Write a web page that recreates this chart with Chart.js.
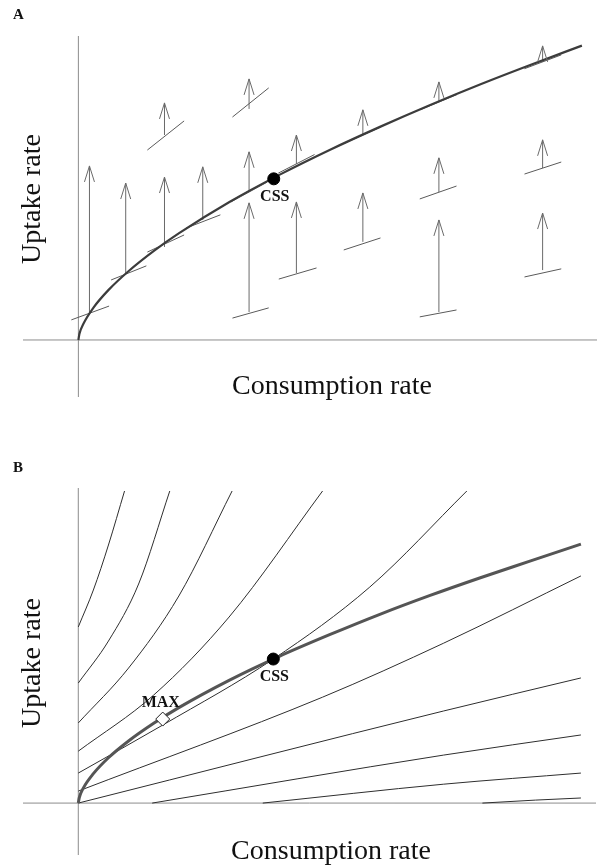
<!DOCTYPE html>
<html>
<head>
<meta charset="utf-8">
<script src="https://cdn.jsdelivr.net/npm/chart.js@4.4.0/dist/chart.umd.min.js"></script>
<style>
body { margin: 0; background: #fff; }
#wrap { position: relative; width: 604px; height: 867px; font-family: "Liberation Serif", "Times New Roman", serif; color: #111; }
canvas { position: absolute; left: 0; }
.lbl { position: absolute; white-space: nowrap; line-height: 1; font-size: 28px; transform: translate(-50%, -50%); }
.rot { transform: translate(-50%, -50%) rotate(-90deg); }
.panel { position: absolute; font-weight: bold; font-size: 15px; line-height: 1; }
</style>
</head>
<body>
<div id="wrap">
  <canvas id="chartA" width="604" height="430" style="top:0"></canvas>
  <canvas id="chartB" width="604" height="437" style="top:430px"></canvas>
  <div class="panel" style="left:13px;top:7px">A</div>
  <div class="panel" style="left:13px;top:460px">B</div>
  <div class="lbl rot" style="left:31px;top:199px">Uptake rate</div>
  <div class="lbl" style="left:332px;top:385px">Consumption rate</div>
  <div class="lbl rot" style="left:31px;top:663px">Uptake rate</div>
  <div class="lbl" style="left:331px;top:850px">Consumption rate</div>
</div>
<script>
// ---- panel A ----
var rangeAX = [-1.1, 10.3];
var rangeAY = [-1.9, 10.13];
var curveAX = [0, 0.02, 0.1, 0.3, 0.6, 1, 1.5, 2, 3, 4, 5, 6, 7, 8, 9, 10];
var curveAY = [0, 0.2, 0.54, 1.08, 1.67, 2.3, 2.97, 3.56, 4.6, 5.51, 6.34, 7.11, 7.84, 8.53, 9.18, 9.81];
var cssA = [3.88, 5.37];

var arrowX    = [0.22, 0.94, 1.71, 1.71, 2.47, 3.39, 3.39, 3.39, 4.33, 4.33, 5.65, 5.65, 7.16, 7.16, 7.16, 9.22, 9.22, 9.22];
var arrowBase = [0.93, 2.23, 3.1, 6.83, 4.0, 7.7, 4.93, 0.93, 5.87, 2.23, 6.83, 3.27, 7.93, 4.93, 0.93, 9.27, 5.73, 2.33];
var arrowTip  = [5.8, 5.23, 5.43, 7.9, 5.77, 8.7, 6.27, 4.57, 6.83, 4.6, 7.67, 4.9, 8.6, 6.07, 4.0, 9.8, 6.67, 4.23];

var tanX0 = [-0.14, 0.65, 1.37, 1.37, 2.14, 3.06, 3.03, 3.06, 3.97, 3.98, 5.29, 5.27, 6.8, 6.78, 6.78, 8.86, 8.86, 8.86];
var tanY0 = [0.67, 2.0, 2.93, 6.33, 3.73, 7.43, 4.6, 0.73, 5.56, 2.03, 6.56, 3.0, 7.68, 4.7, 0.77, 9.04, 5.53, 2.1];
var tanX1 = [0.61, 1.35, 2.1, 2.1, 2.82, 3.78, 3.75, 3.78, 4.69, 4.73, 6.01, 6.0, 7.52, 7.51, 7.51, 9.59, 9.59, 9.59];
var tanY1 = [1.13, 2.47, 3.5, 7.3, 4.17, 8.4, 5.26, 1.07, 6.18, 2.4, 7.1, 3.4, 8.18, 5.13, 1.0, 9.5, 5.93, 2.37];

// ---- panel B ----
var rangeBX = [-1.1, 10.3];
var rangeBY = [-1.73, 10.5];
var curveBX = [0, 0.02, 0.1, 0.3, 0.6, 1, 1.5, 2, 3, 4, 5, 6, 7, 8, 9, 10];
var curveBY = [0, 0.18, 0.5, 0.98, 1.51, 2.07, 2.66, 3.18, 4.09, 4.89, 5.61, 6.29, 6.92, 7.51, 8.07, 8.63];
var cssB = [3.88, 4.8];
var maxB = [1.68, 2.8];

var isoX = [
  [0, 0.3, 0.6, 0.92],
  [0, 0.6, 1.2, 1.82],
  [0, 1, 2, 3.06],
  [0, 1.5, 3, 4.86],
  [0, 1.68, 3.88, 5.8, 7.73],
  [0, 4.86, 7.27, 10],
  [0, 7.27, 10],
  [1.47, 7.27, 10],
  [3.67, 7.27, 10],
  [8.04, 9.1, 10]
];
var isoY = [
  [5.87, 7.1, 8.6, 10.4],
  [4.0, 5.4, 7.3, 10.4],
  [2.67, 4.5, 6.9, 10.4],
  [1.73, 3.6, 6.2, 10.4],
  [1.0, 2.6, 4.8, 7.2, 10.4],
  [0.4, 3.53, 5.33, 7.57],
  [0, 3.07, 4.17],
  [0, 1.6, 2.27],
  [0, 0.63, 1.0],
  [0, 0.1, 0.17]
];

function pts(xs, ys) {
  return xs.map(function (x, i) { return { x: x, y: ys[i] }; });
}

function axesData(rx, ry) {
  return [{ x: rx[0], y: 0 }, { x: rx[1], y: 0 }, { x: 0, y: null }, { x: 0, y: ry[0] }, { x: 0, y: ry[1] }];
}

var arrowHeads = {
  id: 'arrowHeads',
  afterDatasetsDraw: function (chart, args, opts) {
    if (!opts.tips) return;
    var ctx = chart.ctx, xs = chart.scales.x, ys = chart.scales.y;
    ctx.save();
    ctx.strokeStyle = '#6a6a6a';
    ctx.lineWidth = 1;
    opts.tips.forEach(function (t) {
      var px = xs.getPixelForValue(t[0]), py = ys.getPixelForValue(t[1]);
      ctx.beginPath();
      ctx.moveTo(px - 5, py + 16);
      ctx.lineTo(px, py);
      ctx.lineTo(px + 5, py + 16);
      ctx.stroke();
    });
    ctx.restore();
  }
};

var pointLabels = {
  id: 'pointLabels',
  afterDatasetsDraw: function (chart, args, opts) {
    if (!opts.items) return;
    var ctx = chart.ctx, xs = chart.scales.x, ys = chart.scales.y;
    ctx.save();
    ctx.fillStyle = '#111';
    ctx.font = 'bold 16px "Liberation Serif", serif';
    ctx.textAlign = 'center';
    ctx.textBaseline = 'middle';
    opts.items.forEach(function (it) {
      ctx.fillText(it.text, xs.getPixelForValue(it.x) + it.dx, ys.getPixelForValue(it.y) + it.dy);
    });
    ctx.restore();
  }
};

function baseOptions(rx, ry, pad) {
  return {
    responsive: false,
    animation: false,
    layout: { padding: pad },
    scales: {
      x: { type: 'linear', min: rx[0], max: rx[1], display: false },
      y: { type: 'linear', min: ry[0], max: ry[1], display: false }
    },
    plugins: { legend: { display: false }, tooltip: { enabled: false } },
    elements: { point: { radius: 0 } }
  };
}

function lineSet(data, color, width, smooth) {
  return {
    data: data, showLine: true, borderColor: color, borderWidth: width,
    pointRadius: 0, spanGaps: false, fill: false,
    tension: smooth ? 0.4 : 0, cubicInterpolationMode: smooth ? 'monotone' : 'default'
  };
}

// chart A
var stems = [], tangents = [], tips = [];
arrowX.forEach(function (x, i) {
  stems.push({ x: x, y: arrowBase[i] }, { x: x, y: arrowTip[i] }, { x: x, y: null });
  tips.push([x, arrowTip[i]]);
});
tanX0.forEach(function (x, i) {
  tangents.push({ x: x, y: tanY0[i] }, { x: tanX1[i], y: tanY1[i] }, { x: tanX1[i], y: null });
});

var optsA = baseOptions(rangeAX, rangeAY, { left: 23, right: 0, top: 36, bottom: 33 });
optsA.plugins.arrowHeads = { tips: tips };
optsA.plugins.pointLabels = { items: [{ text: 'CSS', x: cssA[0], y: cssA[1], dx: 1, dy: 18 }] };

new Chart(document.getElementById('chartA'), {
  type: 'scatter',
  data: {
    datasets: [
      { data: [{ x: cssA[0], y: cssA[1] }], pointRadius: 6, backgroundColor: '#000', borderColor: '#000', order: 0 },
      Object.assign(lineSet(pts(curveAX, curveAY), '#3c3c3c', 2.2, true), { order: 1 }),
      Object.assign(lineSet(tangents, '#5a5a5a', 1, false), { order: 2 }),
      Object.assign(lineSet(stems, '#6a6a6a', 1, false), { order: 3 }),
      Object.assign(lineSet(axesData(rangeAX, rangeAY), '#8c8c8c', 1, false), { order: 4 })
    ]
  },
  options: optsA,
  plugins: [arrowHeads, pointLabels]
});

// chart B
var optsB = baseOptions(rangeBX, rangeBY, { left: 23, right: 0, top: 58, bottom: 12 });
optsB.plugins.pointLabels = { items: [
  { text: 'CSS', x: cssB[0], y: cssB[1], dx: 1, dy: 18 },
  { text: 'MAX', x: maxB[0], y: maxB[1], dx: -2, dy: -16 }
] };

var setsB = [
  { data: [{ x: cssB[0], y: cssB[1] }], pointRadius: 6, backgroundColor: '#000', borderColor: '#000', order: 0 },
  { data: [{ x: maxB[0], y: maxB[1] }], pointStyle: 'rectRot', pointRadius: 7, backgroundColor: '#fff', borderColor: '#222', borderWidth: 1, order: 0 },
  Object.assign(lineSet(pts(curveBX, curveBY), '#555', 3, true), { order: 1 })
];
isoX.forEach(function (xs, i) {
  setsB.push(Object.assign(lineSet(pts(xs, isoY[i]), '#2e2e2e', 1, true), { order: 2 }));
});
setsB.push(Object.assign(lineSet(axesData(rangeBX, rangeBY), '#8c8c8c', 1, false), { order: 5 }));

new Chart(document.getElementById('chartB'), {
  type: 'scatter',
  data: { datasets: setsB },
  options: optsB,
  plugins: [pointLabels]
});
</script>
</body>
</html>
